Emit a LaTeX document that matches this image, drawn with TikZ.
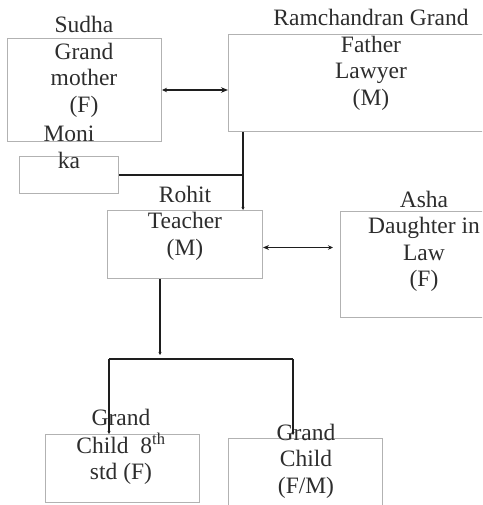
\documentclass[tikz,border=0pt]{standalone}
\usepackage{fontspec}
\setmainfont{Liberation Serif}
\usetikzlibrary{arrows.meta}
\definecolor{boxgray}{RGB}{178,178,178}
\definecolor{txt}{RGB}{45,45,45}
\definecolor{ink}{RGB}{30,30,30}
\newcommand\tstack[1]{\begin{tabular}[t]{@{}c@{}}#1\end{tabular}}
\begin{document}
\begin{tikzpicture}[x=1pt,y=-1pt,
  box/.style={draw=boxgray, line width=1pt, inner sep=0pt, anchor=north west},
  lbl/.style={anchor=base, inner sep=0pt, text=txt, font=\fontsize{23.5}{26.5}\selectfont},
  conn/.style={draw=ink, line width=1.6pt},
  link/.style={draw=ink, line width=1.5pt},
  tiny/.style={-{Stealth[length=3pt,width=3pt]}}]
\useasboundingbox (0,0) rectangle (482,505);
\clip (0,0) rectangle (482,505);
% boxes
\node[box, minimum width=154pt, minimum height=103pt] (sudha) at (7,38) {};
\node[box, minimum width=290pt, minimum height=97pt] (ram) at (228,34) {};
\node[box, minimum width=99pt, minimum height=37pt] (monika) at (19,156) {};
\node[box, minimum width=155pt, minimum height=68pt] (rohit) at (107,210) {};
\node[box, minimum width=180pt, minimum height=106pt] (asha) at (340,211) {};
\node[box, minimum width=154pt, minimum height=68pt] (gc1) at (45,434) {};
\node[box, minimum width=154pt, minimum height=100pt] (gc2) at (228,438) {};
% texts
\node[lbl] (tsudha) at (84,33) {\tstack{Sudha\\Grand\\mother\\(F)}};
\node[lbl] (tram) at (371,26) {\tstack{Ramchandran Grand\\Father\\Lawyer\\(M)}};
\node[lbl] (tmon) at (69,142) {\tstack{Moni\\ka}};
\node[lbl] (trohit) at (185,202) {\tstack{Rohit\\Teacher\\(M)}};
\node[lbl] (tasha) at (424,207) {\tstack{Asha\\Daughter in\\Law\\(F)}};
\node[lbl] (tgc1) at (121,425) {\tstack{Grand\\Child\ \ 8\textsuperscript{th}\\std (F)}};
\node[lbl] (tgc2) at (306,440) {\tstack{Grand\\Child\\(F/M)}};
% helper coordinates
\coordinate (rtop) at ([xshift=15pt]ram.south west);
\coordinate (ashaL) at ([xshift=-7pt]asha.west);
\coordinate (rbot) at ([xshift=53pt]rohit.south west);
\coordinate (bar) at (160,359);
\coordinate (gl) at ([xshift=64pt]gc1.north west);
\coordinate (gr) at ([xshift=65pt,yshift=3pt]gc2.north west);
% connectors
\draw[link, {Stealth[length=5pt,width=4.5pt]}-{Stealth[length=7pt,width=5.5pt]}] (sudha.east) -- (sudha.east -| ram.west);
\draw[conn] (monika.east) -- (monika.east -| rtop);
\draw[conn, tiny] (rtop) -- (rtop |- rohit.north);
\draw[link, {Stealth[length=6pt,width=5pt]}-{Stealth[length=5pt,width=4.5pt]}] ([yshift=-3pt]rohit.east) -- ([yshift=-3pt]rohit.east -| ashaL);
\draw[conn, tiny] (rbot) -- ([yshift=4pt]rbot |- bar);
\draw[conn] (bar -| gl) -- (bar -| gr);
\draw[conn, tiny] (bar -| gl) -- (gl);
\draw[conn, tiny] (bar -| gr) -- (gr);
\end{tikzpicture}
\end{document}
